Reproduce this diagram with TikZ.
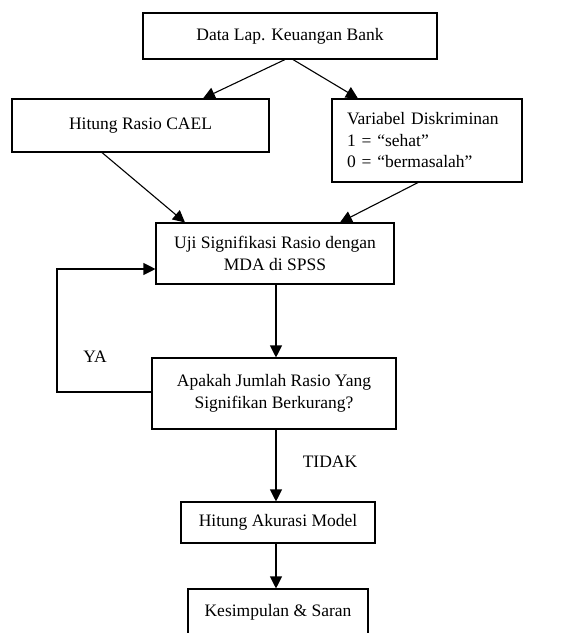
\documentclass[tikz,border=0pt]{standalone}
\usepackage{fontspec}
\setmainfont{Liberation Serif}
\usetikzlibrary{arrows.meta,calc}
\begin{document}
\begin{tikzpicture}[x=1pt,y=-1pt,
  box/.style={draw,line width=1.1pt,inner sep=0pt,font=\fontsize{17.5}{21.5}\selectfont,align=center},
  arr/.style={line width=1.1pt,-{Triangle[length=12pt,width=12pt]}},
  lbl/.style={font=\fontsize{17.5}{21.5}\selectfont,inner sep=0pt}]
\useasboundingbox (0,0) rectangle (566,633);
\clip (0,0) rectangle (566,633);
\node[box,minimum width=294pt,minimum height=46pt] (data) at (290,36) {Data Lap. Keuangan Bank};
\node[box,minimum width=257pt,minimum height=53pt] (cael) at (140.5,125.5) {Hitung Rasio CAEL};
\node[box,minimum width=190pt,minimum height=83pt,align=left,text width=160pt] (var) at (427,140.5) {Variabel Diskriminan\\1 = “sehat”\\0 = “bermasalah”};
\node[box,minimum width=238pt,minimum height=61pt] (uji) at (275,253.5) {Uji Signifikasi Rasio dengan\\MDA di SPSS};
\node[box,minimum width=244pt,minimum height=71pt] (apa) at (274,393.5) {Apakah Jumlah Rasio Yang\\Signifikan Berkurang?};
\node[box,minimum width=194pt,minimum height=41pt] (aku) at (278,522.5) {Hitung Akurasi Model};
\node[box,minimum width=180pt,minimum height=46pt] (kes) at (278,612) {Kesimpulan \& Saran};
\node[lbl] (ya) at (95,357) {YA};
\node[lbl] (tidak) at (330,462) {TIDAK};
\coordinate (c1) at (57,392);
\coordinate (c2) at (57,269);
\draw[arr] ($(data.south)+(-5,0)$) -- ($(cael.north)+(62.5,0)$);
\draw[arr] ($(data.south)+(3,0)$) -- ($(var.north)+(-69,0)$);
\draw[arr] ($(cael.south)+(-38.5,0)$) -- ($(uji.north)+(-90,0)$);
\draw[arr] ($(var.south)+(-9,0)$) -- ($(uji.north)+(65,0)$);
\draw[arr] (uji.south -| 276,0) -- (apa.north -| 276,0);
\draw[arr] (apa.west |- c1) -- (c1) -- (c2) -- (uji.west |- c2);
\draw[arr] (apa.south -| 276,0) -- (aku.north -| 276,0);
\draw[arr] (aku.south -| 276,0) -- (kes.north -| 276,0);
\end{tikzpicture}
\end{document}
